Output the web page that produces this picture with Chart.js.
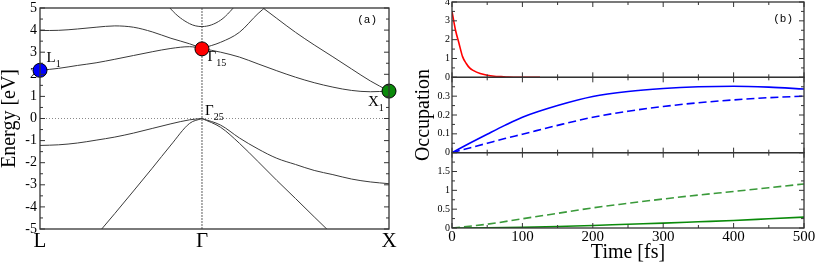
<!DOCTYPE html>
<html>
<head>
<meta charset="utf-8">
<script src="https://cdn.jsdelivr.net/npm/chart.js@4.4.0/dist/chart.umd.min.js"></script>
<style>
  body { margin: 0; background: #fff; }
  #wrap { position: relative; width: 817px; height: 265px; }
  #bands { position: absolute; left: 0; top: 0; }
  #occ { position: absolute; left: 405px; top: 0; }
</style>
</head>
<body>
<div id="wrap">
  <canvas id="bands" width="405" height="265"></canvas>
  <canvas id="occ" width="412" height="265"></canvas>
</div>
<script>
// ---- panel (a): band structure along L - Gamma - X ----
const kPoints = [0, 0.866, 1.866];
const kPointLabels = ['L', 'Γ', 'X'];

// k grids for each band piece
const kLG = [0, 0.1, 0.2, 0.3, 0.4, 0.5, 0.6, 0.7, 0.8, 0.866];
const kGX = [0.866, 0.966, 1.066, 1.166, 1.266, 1.366, 1.466, 1.566, 1.666, 1.766, 1.866];
const kLightLG = [0.3, 0.4, 0.5, 0.6, 0.7, 0.8, 0.866];
const kLightGX = [0.866, 0.966, 1.066, 1.166, 1.266, 1.366, 1.466, 1.566];
const kSteepGX = [0.866, 0.966, 1.066, 1.166, 1.266];
const kFallGX = [1.166, 1.266, 1.366, 1.466, 1.566, 1.666, 1.766, 1.866];
const kUpperG = [0.6, 0.7, 0.8, 0.866, 0.966, 1.066];

// energies (eV)
const valHeavyLG = [-1.22, -1.19, -1.11, -0.98, -0.84, -0.66, -0.45, -0.24, -0.06, 0];
const valHeavyGX = [0, -0.3, -0.88, -1.38, -1.8, -2.08, -2.35, -2.54, -2.74, -2.87, -2.95];
const valLightLG = [-5.3, -4.3, -3.28, -2.25, -1.2, -0.22, 0];
const valLightGX = [0, -0.4, -1.12, -1.95, -2.8, -3.62, -4.45, -5.27];
const condLowLG = [2.18, 2.27, 2.4, 2.52, 2.68, 2.85, 3.02, 3.17, 3.25, 3.17];
const condHighLG = [3.98, 3.99, 4.05, 4.13, 4.19, 4.13, 3.92, 3.63, 3.38, 3.17];
const condX1GX = [3.17, 3.0, 2.78, 2.47, 2.16, 1.87, 1.62, 1.42, 1.27, 1.21, 1.24];
const condSteepGX = [3.17, 3.45, 3.9, 4.75, 5.45];
const condFallGX = [5.17, 4.53, 3.9, 3.33, 2.79, 2.24, 1.7, 1.24];
const condUpperG = [6.2, 4.95, 4.29, 4.16, 4.45, 5.3];

// marked states L1, Gamma15, X1
const dotK = [0, 0.866, 1.866];
const dotE = [2.18, 3.15, 1.24];
const dotColors = ['#0000ff', '#ff0000', '#0a8a0a'];

// ---- panel (b): occupations vs time ----
const tRed = [0, 5, 10, 15, 20, 25, 30, 40, 50, 60, 70, 80, 100, 125];
const occGamma15 = [3.5, 2.5, 1.8, 1.1, 0.75, 0.5, 0.37, 0.2, 0.11, 0.06, 0.04, 0.02, 0.005, 0];
const tBlue = [0, 25, 50, 75, 100, 150, 200, 250, 300, 350, 400, 450, 500];
const occL1 = [0, 0.05, 0.098, 0.145, 0.188, 0.25, 0.298, 0.325, 0.341, 0.35, 0.353, 0.348, 0.338];
const occL1b = [0, 0.025, 0.05, 0.075, 0.098, 0.145, 0.188, 0.22, 0.245, 0.265, 0.28, 0.292, 0.3];
const tGreen = [0, 50, 100, 150, 200, 250, 300, 350, 400, 450, 500];
const occX1 = [0, 0.005, 0.018, 0.04, 0.068, 0.1, 0.13, 0.165, 0.2, 0.245, 0.29];
const occX1b = [0, 0.1, 0.245, 0.39, 0.535, 0.655, 0.77, 0.875, 0.97, 1.07, 1.17];

const serif = '"Liberation Serif", "Times New Roman", serif';
const mono = '"Liberation Mono", "Courier New", monospace';

function pts(xs, ys) {
    return xs.map((x, i) => ({ x: x, y: ys[i] }));
}

function band(xs, ys) {
    return {
        data: pts(xs, ys),
        borderColor: '#3a3a3a',
        borderWidth: 1,
        pointRadius: 0,
        cubicInterpolationMode: 'monotone'
    };
}

// inward tick marks on a vertical edge
function yTicks(ctx, scale, x, dir, step, count, majorEvery) {
    for (let i = 0; i <= count; i++) {
        const v = scale.min + i * step;
        const y = scale.getPixelForValue(v);
        const len = i % majorEvery === 0 ? 5 : 3;
        ctx.beginPath();
        ctx.moveTo(x, y);
        ctx.lineTo(x + dir * len, y);
        ctx.stroke();
    }
}

const bandDecor = {
    id: 'bandDecor',
    beforeDatasetsDraw(chart) {
        const { ctx, chartArea: a, scales: { x, y } } = chart;
        ctx.save();
        ctx.strokeStyle = '#8a8a8a';
        ctx.lineWidth = 1;
        ctx.setLineDash([1, 2]);
        const y0 = y.getPixelForValue(0);
        ctx.beginPath();
        ctx.moveTo(a.left, y0);
        ctx.lineTo(a.right, y0);
        ctx.stroke();
        ctx.lineWidth = 1.6;
        ctx.strokeStyle = '#9a9a9a';
        ctx.setLineDash([2, 1]);
        const xg = x.getPixelForValue(kPoints[1]);
        ctx.beginPath();
        ctx.moveTo(xg, a.top);
        ctx.lineTo(xg, a.bottom);
        ctx.stroke();
        ctx.restore();
    },
    afterDraw(chart) {
        const { ctx, chartArea: a, scales: { x, y } } = chart;
        ctx.save();
        ctx.strokeStyle = '#333';
        ctx.lineWidth = 1.3;
        ctx.strokeRect(a.left, a.top, a.right - a.left, a.bottom - a.top);
        ctx.lineWidth = 1;
        yTicks(ctx, y, a.left, 1, 0.5, 20, 2);
        yTicks(ctx, y, a.right, -1, 0.5, 20, 2);

        // state labels with subscripts
        const labels = [
            { t: 'L', s: '1', k: dotK[0], e: dotE[0], dx: 6.5, dy: -8.3 },
            { t: 'Γ', s: '15', k: dotK[1], e: dotE[1], dx: 5.5, dy: 12.5 },
            { t: 'Γ', s: '25', k: kPoints[1], e: 0, dx: 3, dy: -3.5 },
            { t: 'X', s: '1', k: dotK[2], e: dotE[2], dx: -21, dy: 14.5 }
        ];
        ctx.fillStyle = '#000';
        ctx.textBaseline = 'alphabetic';
        labels.forEach(l => {
            const px = x.getPixelForValue(l.k) + l.dx;
            const py = y.getPixelForValue(l.e) + l.dy;
            ctx.font = '15px ' + serif;
            ctx.fillText(l.t, px, py);
            const w = ctx.measureText(l.t).width;
            ctx.font = '10px ' + serif;
            ctx.fillText(l.s, px + w, py + 5);
        });
        ctx.font = '11px ' + mono;
        ctx.textAlign = 'right';
        ctx.fillText('(a)', a.right - 12, a.top + 14.5);
        ctx.restore();
    }
};

new Chart(document.getElementById('bands'), {
    type: 'line',
    data: {
        datasets: [
            {
                data: pts(dotK, dotE),
                showLine: false,
                pointRadius: 7,
                pointBackgroundColor: dotColors,
                pointBorderColor: '#000',
                pointBorderWidth: 1,
                clip: false
            },
            band(kLG, valHeavyLG),
            band(kGX, valHeavyGX),
            band(kLightLG, valLightLG),
            band(kLightGX, valLightGX),
            band(kLG, condLowLG),
            band(kLG, condHighLG),
            band(kGX, condX1GX),
            band(kSteepGX, condSteepGX),
            band(kFallGX, condFallGX),
            band(kUpperG, condUpperG)
        ]
    },
    options: {
        responsive: false,
        animation: false,
        layout: { padding: { left: 0, right: 16, top: 7, bottom: 0 } },
        plugins: { legend: { display: false }, tooltip: { enabled: false } },
        scales: {
            x: {
                type: 'linear',
                min: kPoints[0],
                max: kPoints[2],
                grid: { display: false, drawTicks: false },
                border: { display: false },
                afterBuildTicks: s => { s.ticks = kPoints.map(v => ({ value: v })); },
                afterFit: s => { s.height = 36; s.paddingLeft = 0; s.paddingRight = 0; },
                ticks: {
                    padding: 0,
                    color: '#000',
                    maxRotation: 0,
                    autoSkip: false,
                    font: { family: serif, size: 21 },
                    callback: (v, i) => kPointLabels[i]
                }
            },
            y: {
                min: -5,
                max: 5,
                grid: { display: false, drawTicks: false },
                border: { display: false },
                afterFit: s => { s.width = 40; s.paddingTop = 0; s.paddingBottom = 0; },
                title: {
                    display: true,
                    text: 'Energy [eV]',
                    color: '#000',
                    padding: 0,
                    font: { family: serif, size: 20, lineHeight: 1 }
                },
                ticks: {
                    stepSize: 1,
                    padding: 3,
                    autoSkip: false,
                    color: '#000',
                    font: { family: serif, size: 14 }
                }
            }
        }
    },
    plugins: [bandDecor]
});

// ---- panel (b) ----
const panels = [
    { id: 'yTop', step: 0.5, count: 8 },
    { id: 'yMid', step: 0.05, count: 8 },
    { id: 'yBot', step: 0.25, count: 8 }
];

const occDecor = {
    id: 'occDecor',
    afterDraw(chart) {
        const { ctx, chartArea: a, scales } = chart;
        const x = scales.x;
        ctx.save();
        ctx.strokeStyle = '#333';
        panels.forEach(p => {
            const s = scales[p.id];
            ctx.lineWidth = 1.3;
            ctx.strokeRect(a.left, s.top, a.right - a.left, s.bottom - s.top);
            ctx.lineWidth = 1;
            for (let i = 0; i <= 10; i++) {
                const px = x.getPixelForValue(i * 50);
                const len = i % 2 === 0 ? 5 : 3;
                ctx.beginPath();
                ctx.moveTo(px, s.top);
                ctx.lineTo(px, s.top + len);
                ctx.moveTo(px, s.bottom);
                ctx.lineTo(px, s.bottom - len);
                ctx.stroke();
            }
            yTicks(ctx, s, a.left, 1, p.step, p.count, 2);
            yTicks(ctx, s, a.right, -1, p.step, p.count, 2);
        });
        ctx.fillStyle = '#000';
        ctx.font = '11px ' + mono;
        ctx.textAlign = 'right';
        ctx.textBaseline = 'alphabetic';
        ctx.fillText('(b)', a.right - 11, a.top + 19.5);
        ctx.restore();
    }
};

function occAxis(max, step, showTop, title) {
    return {
        type: 'linear',
        position: 'left',
        stack: 'occ',
        stackWeight: 1,
        min: 0,
        max: max,
        grid: { display: false, drawTicks: false },
        border: { display: false },
        afterFit: s => { s.width = 47; s.paddingTop = 0; s.paddingBottom = 0; },
        title: title ? {
            display: true,
            text: title,
            color: '#000',
            padding: { top: 6.5, bottom: 0 },
            font: { family: serif, size: 20 }
        } : { display: false },
        ticks: {
            stepSize: step,
            padding: 2,
            autoSkip: false,
            color: '#000',
            font: { family: serif, size: 10 },
            callback: v => (!showTop && Math.abs(v - max) < 1e-9) ? '' : String(Number(v.toFixed(2)))
        }
    };
}

function occLine(xs, ys, color, axis, dashed) {
    return {
        data: pts(xs, ys),
        yAxisID: axis,
        borderColor: color,
        borderWidth: 1.6,
        borderDash: dashed ? [8, 4] : [],
        pointRadius: 0,
        cubicInterpolationMode: 'monotone'
    };
}

new Chart(document.getElementById('occ'), {
    type: 'line',
    data: {
        datasets: [
            occLine(tRed, occGamma15, '#ff0000', 'yTop', false),
            occLine(tBlue, occL1, '#0000ff', 'yMid', false),
            occLine(tBlue, occL1b, '#0000ff', 'yMid', true),
            occLine(tGreen, occX1, '#0a8a0a', 'yBot', false),
            occLine(tGreen, occX1b, '#3a9a3a', 'yBot', true)
        ]
    },
    options: {
        responsive: false,
        animation: false,
        layout: { padding: { left: 0, right: 13, top: 2, bottom: 0 } },
        plugins: { legend: { display: false }, tooltip: { enabled: false } },
        scales: {
            x: {
                type: 'linear',
                min: 0,
                max: 500,
                grid: { display: false, drawTicks: false },
                border: { display: false },
                afterFit: s => { s.height = 37; s.paddingLeft = 0; s.paddingRight = 0; },
                title: {
                    display: true,
                    text: 'Time [fs]',
                    color: '#000',
                    padding: 0,
                    font: { family: serif, size: 20 }
                },
                ticks: {
                    stepSize: 100,
                    padding: 0,
                    autoSkip: false,
                    color: '#000',
                    maxRotation: 0,
                    font: { family: serif, size: 15 }
                }
            },
            yBot: occAxis(2, 0.5, false, null),
            yMid: occAxis(0.4, 0.1, false, 'Occupation'),
            yTop: occAxis(4, 1, true, null)
        }
    },
    plugins: [occDecor]
});
</script>
</body>
</html>
